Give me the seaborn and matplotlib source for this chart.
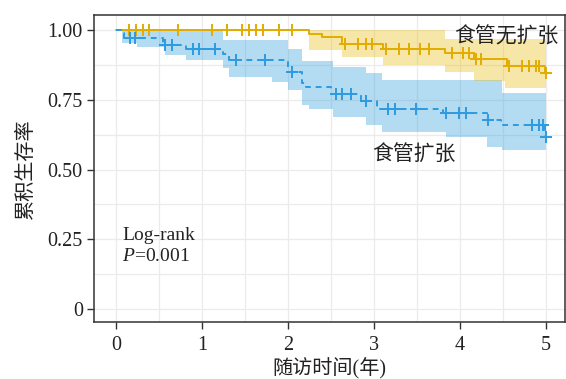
import numpy as np
import pandas as pd
import seaborn as sns
import matplotlib.pyplot as plt
from matplotlib.ticker import MultipleLocator

# 食管无扩张 (yellow)
t_no = [0, 2.25, 2.40, 2.63, 3.10, 3.83, 4.16, 4.55, 4.99]
s_no = [1.0, 0.988, 0.976, 0.949, 0.931, 0.918, 0.898, 0.873, 0.845]
cens_no = [0.15, 0.23, 0.31, 0.39, 0.72, 1.12, 1.29, 1.47, 1.55, 1.63, 1.71, 1.90, 2.05,
           2.66, 2.81, 2.91, 2.98, 3.14, 3.29, 3.41, 3.53, 3.64, 3.91, 4.03, 4.11,
           4.19, 4.25, 4.57, 4.72, 4.80, 4.88, 4.92, 5.0]
ci_t_no = [2.25, 2.63, 3.10, 3.83, 4.16, 4.52, 5.0]
ci_lo_no = [0.928, 0.905, 0.875, 0.851, 0.817, 0.791, 0.791]
ci_hi_no = [1.0, 1.0, 1.0, 0.968, 0.968, 0.968, 0.968]

# 食管扩张 (blue)
t_yes = [0, 0.07, 0.10, 0.55, 0.82, 1.24, 1.32, 2.00, 2.16, 2.21, 2.50, 2.85, 3.04,
         3.80, 4.32, 4.48, 4.99]
s_yes = [1.0, 0.989, 0.972, 0.947, 0.933, 0.913, 0.892, 0.851, 0.81, 0.797, 0.770,
         0.746, 0.717, 0.704, 0.677, 0.659, 0.618]
cens_yes = [0.16, 0.22, 0.57, 0.65, 0.90, 0.97, 1.15, 1.40, 1.73, 2.05, 2.56, 2.63,
            2.73, 2.91, 3.16, 3.24, 3.49, 3.84, 3.99, 4.07, 4.33, 4.84, 4.92, 4.97, 5.0]
ci_t_yes = [0.07, 0.24, 0.57, 0.82, 1.24, 1.32, 1.82, 2.00, 2.16, 2.25, 2.52, 2.91,
            3.09, 3.84, 4.32, 4.49, 5.0]
ci_lo_yes = [0.953, 0.94, 0.91, 0.892, 0.864, 0.833, 0.815, 0.785, 0.731, 0.716,
             0.689, 0.659, 0.636, 0.618, 0.582, 0.57, 0.57]
ci_hi_yes = [1.0, 1.0, 1.0, 1.0, 0.964, 0.964, 0.964, 0.934, 0.89, 0.89, 0.869,
             0.846, 0.821, 0.821, 0.821, 0.774, 0.774]

yellow = '#E2AC00'
blue = '#2E9ADF'

sns.set_theme(style='white')
plt.rcParams['font.family'] = ['Liberation Serif', 'Noto Sans CJK SC']
plt.rcParams['mathtext.fontset'] = 'custom'
plt.rcParams['mathtext.it'] = 'Liberation Serif:italic'
plt.rcParams['mathtext.rm'] = 'Liberation Serif'

fig = plt.figure(figsize=(5.66, 3.79), dpi=100)
ax = fig.add_axes([0.166, 0.150, 0.832, 0.810])


def km_df(t, s):
    # extend the last step to the end of follow-up
    return pd.DataFrame({'time': list(t) + [5.0], 'surv': list(s) + [s[-1]]})


def censor_y(t, s, c):
    idx = np.searchsorted(t, c, side='right') - 1
    return np.array(s)[idx]


# confidence bands
ax.fill_between(ci_t_yes, ci_lo_yes, ci_hi_yes, step='post', color='#2E9FDF',
                alpha=0.36, lw=0, zorder=1)
ax.fill_between(ci_t_no, ci_lo_no, ci_hi_no, step='post', color='#E7B800',
                alpha=0.34, lw=0, zorder=1)

# survival curves
sns.lineplot(data=km_df(t_no, s_no), x='time', y='surv', ax=ax, color=yellow,
             drawstyle='steps-post', lw=1.4, zorder=3, estimator=None, sort=False)
sns.lineplot(data=km_df(t_yes, s_yes), x='time', y='surv', ax=ax, color=blue,
             drawstyle='steps-post', lw=1.4, zorder=3, estimator=None, sort=False,
             dashes=False, linestyle=(0, (3, 2.5)))

# censor marks
ax.plot(cens_no, censor_y(t_no, s_no, cens_no), ls='none', marker='+',
        ms=8.5, mew=1.4, color=yellow, zorder=4)
ax.plot(cens_yes, censor_y(t_yes, s_yes, cens_yes), ls='none', marker='+',
        ms=8.5, mew=1.4, color=blue, zorder=4)

ax.set_xlim(-0.255, 5.22)
ax.set_ylim(-0.047, 1.054)
ax.xaxis.set_major_locator(MultipleLocator(1))
ax.xaxis.set_minor_locator(MultipleLocator(0.5))
ax.yaxis.set_minor_locator(MultipleLocator(0.125))
ax.set_yticks([0, 0.25, 0.5, 0.75, 1.0])
ax.set_yticklabels(['0', '0.25', '0.50', '0.75', '1.00'])
ax.grid(which='both', color='#EBEBEB', lw=0.9, zorder=0)
ax.set_axisbelow(True)

for side in ['left', 'bottom', 'top', 'right']:
    ax.spines[side].set_color('#333333')
    ax.spines[side].set_linewidth(1.1)

ax.tick_params(axis='both', which='major', direction='out', length=5, width=1,
               color='#333333', labelsize=14.5, labelcolor='#222222', pad=3,
               left=True, bottom=True)
ax.tick_params(axis='x', pad=5)
ax.tick_params(which='minor', length=0)

ax.set_xlabel('随访时间(年)', fontsize=14.5, color='#222222', labelpad=2)
ax.set_ylabel('累积生存率', fontsize=14.5, color='#222222', labelpad=8)

ax.text(4.54, 0.975, '食管无扩张', fontsize=15, ha='center', va='center',
        color='#222222', zorder=5)
ax.text(3.47, 0.552, '食管扩张', fontsize=15, ha='center', va='center',
        color='#222222', zorder=5)
ax.text(0.07, 0.226, 'Log-rank\n$P$=0.001', fontsize=14, ha='left', va='center',
        color='#222222', linespacing=1.3)

fig.savefig('out.png', dpi=100)
